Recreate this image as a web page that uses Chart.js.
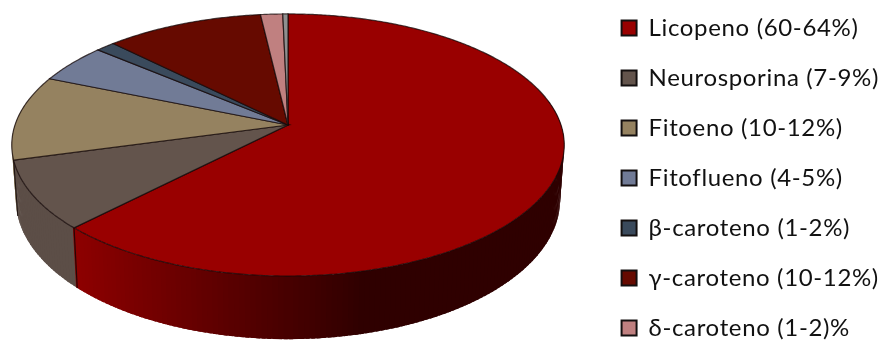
<!DOCTYPE html>
<html lang="es"><head><meta charset="utf-8">
<style>
html,body{margin:0;padding:0;background:#fff;overflow:hidden}
#wrap{width:882px;height:340px;overflow:hidden;position:relative}
</style>
<script src="https://cdn.jsdelivr.net/npm/chart.js@4"></script>
</head><body>
<div id="wrap"><canvas id="c" width="882" height="400"></canvas></div>
<script>
const categories = ["Licopeno (60-64%)","Neurosporina (7-9%)","Fitoeno (10-12%)","Fitoflueno (4-5%)","β-caroteno (1-2%)","γ-caroteno (10-12%)","δ-caroteno (1-2)%","Otros"];
const values = [62.3,8.45,10.5,4.9,1.3,10.7,1.5,0.35];
const colors = ["#990000","#63544c","#958260","#717b96","#3a4a5c","#660a00","#c08080","#8f8f8f"];
const legendCount = 7;

// projection of the pie disc: perspective-tilted
const CX=288, CY=125, R=273, RY=128, K=0.1525, DEPTH=53.5, LOWER=0.985;
function proj(a, z){
  const u=Math.cos(a), v=Math.sin(a), s=1/(1-K*v);
  return {x:CX+R*u*s*(z?LOWER:1), y:CY+RY*v*s+(z?DEPTH*s:0), v};
}
function shade(hex,f){
  const n=parseInt(hex.slice(1),16);
  return `rgb(${Math.round((n>>16)*f)},${Math.round(((n>>8)&255)*f)},${Math.round((n&255)*f)})`;
}
function wallFactor(x){
  if(x<=73) return 0.93;
  if(x<=360) return 0.93-(x-73)/(360-73)*0.62;
  return 0.31;
}
const pie3d={
  id:'pie3d',
  beforeLayout(chart){ chart.ctx.letterSpacing='0.65px'; },
  beforeDatasetsDraw(chart){
    const ctx=chart.ctx, arcs=chart.getDatasetMeta(0).data;
    const step=Math.PI/180;
    const segs=[];
    arcs.forEach((arc,i)=>{
      const n=Math.max(1,Math.ceil((arc.endAngle-arc.startAngle)/step));
      for(let j=0;j<n;j++){
        const a0=arc.startAngle+(arc.endAngle-arc.startAngle)*j/n;
        const a1=arc.startAngle+(arc.endAngle-arc.startAngle)*(j+1)/n;
        segs.push({a0,a1,i,last:j===n-1,v:Math.sin((a0+a1)/2)});
      }
    });
    ctx.save();
    // side wall: back to front, each quad slightly overlapping the next to hide seams
    segs.filter(s=>s.v>-0.2).sort((p,q)=>p.v-q.v).forEach(s=>{
      const e=step*0.35;
      const p0=proj(s.a0-e),p1=proj(s.a1+e),q1=proj(s.a1+e,1),q0=proj(s.a0-e,1);
      ctx.beginPath();ctx.moveTo(p0.x,p0.y);ctx.lineTo(p1.x,p1.y);ctx.lineTo(q1.x,q1.y);ctx.lineTo(q0.x,q0.y);ctx.closePath();
      ctx.fillStyle=shade(colors[s.i],wallFactor((p0.x+p1.x)/2));ctx.fill();
    });
    // wall dividers
    ctx.strokeStyle='rgba(15,5,5,.8)';ctx.lineWidth=1.2;
    arcs.forEach(arc=>{
      const v=Math.sin(arc.endAngle);
      if(v>0 && Math.cos(arc.endAngle)<0){
        const p=proj(arc.endAngle),q=proj(arc.endAngle,1);
        ctx.beginPath();ctx.moveTo(p.x,p.y);ctx.lineTo(q.x,q.y);ctx.stroke();
      }
    });
    // top faces
    arcs.forEach((arc,i)=>{
      ctx.beginPath();ctx.moveTo(CX,CY);
      const n=Math.max(2,Math.ceil((arc.endAngle-arc.startAngle)/(Math.PI/360)));
      for(let j=0;j<=n;j++){
        const p=proj(arc.startAngle+(arc.endAngle-arc.startAngle)*j/n);
        ctx.lineTo(p.x,p.y);
      }
      ctx.closePath();
      ctx.fillStyle=colors[i];ctx.fill();
      ctx.strokeStyle='rgba(20,8,8,.75)';ctx.lineWidth=1.2;ctx.stroke();
    });
    ctx.restore();
    return false;
  }
};
new Chart(document.getElementById('c'),{
  type:'pie',
  data:{labels:categories,datasets:[{data:values,backgroundColor:colors,borderColor:'#141010',borderWidth:2}]},
  plugins:[pie3d],
  options:{
    responsive:false,animation:false,
    layout:{padding:{top:-10,left:0,right:-7,bottom:0}},
    plugins:{
      tooltip:{enabled:false},
      legend:{
        position:'right',align:'start',
        labels:{
          boxWidth:15,boxHeight:15,padding:26,color:'#111111',
          font:{family:'Lato',size:24},
          filter:(item)=>item.index<legendCount
        }
      }
    }
  }
});
</script>
</body></html>
